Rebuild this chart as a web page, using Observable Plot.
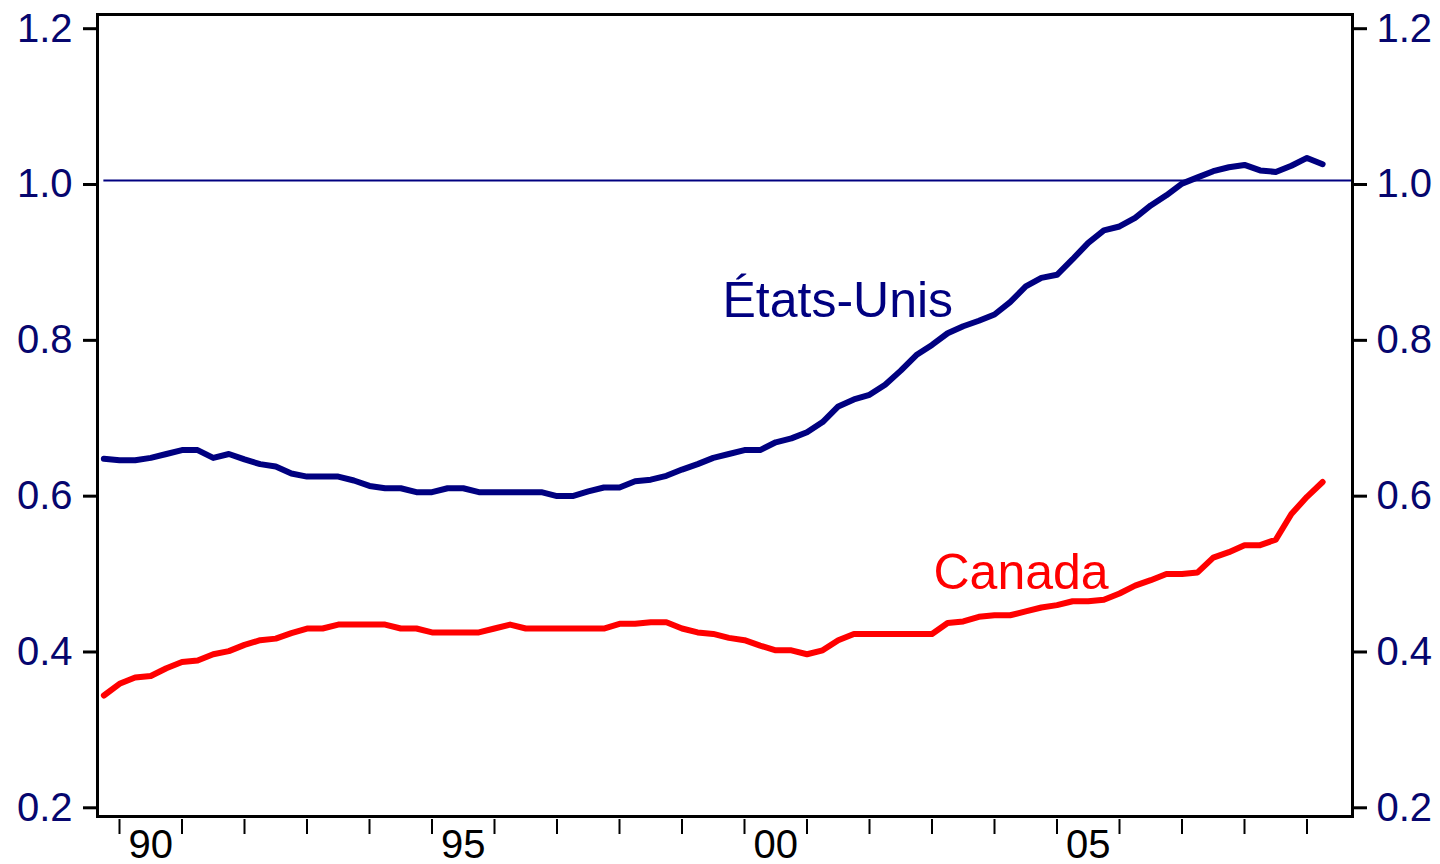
<!DOCTYPE html>
<html>
<head>
<meta charset="utf-8">
<script src="https://cdn.jsdelivr.net/npm/d3@7"></script>
<script src="https://cdn.jsdelivr.net/npm/@observablehq/plot@0.6"></script>
<style>
  html, body { margin: 0; padding: 0; background: #fff; }
  svg { display: block; }
</style>
</head>
<body>
<script>
// Quarterly series, 1989Q4 to 2009Q2
const firstYear = 1989, firstQuarter = 4;
const etatsUnis = [
  0.643,0.641,0.641,0.644,0.649,0.654,0.654,0.644,0.649,0.642,
  0.636,0.633,0.624,0.620,0.620,0.620,0.615,0.608,0.605,0.605,
  0.600,0.600,0.605,0.605,0.600,0.600,0.600,0.600,0.600,0.595,
  0.595,0.601,0.606,0.606,0.614,0.616,0.621,0.629,0.636,0.644,
  0.649,0.654,0.654,0.664,0.669,0.677,0.690,0.710,0.719,0.725,
  0.738,0.756,0.776,0.789,0.804,0.813,0.820,0.828,0.844,0.864,
  0.875,0.879,0.899,0.920,0.936,0.941,0.952,0.968,0.981,0.996,
  1.004,1.012,1.017,1.020,1.013,1.011,1.019,1.029,1.021
];
const canada = [
  0.339,0.354,0.362,0.364,0.374,0.382,0.384,0.392,0.396,0.404,
  0.410,0.412,0.419,0.425,0.425,0.430,0.430,0.430,0.430,0.425,
  0.425,0.420,0.420,0.420,0.420,0.425,0.430,0.425,0.425,0.425,
  0.425,0.425,0.425,0.431,0.431,0.433,0.433,0.425,0.420,0.418,
  0.413,0.410,0.403,0.397,0.397,0.392,0.397,0.410,0.418,0.418,
  0.418,0.418,0.418,0.418,0.432,0.434,0.440,0.442,0.442,0.447,
  0.452,0.455,0.460,0.460,0.462,0.470,0.480,0.487,0.495,0.495,
  0.497,0.516,0.523,0.532,0.532,0.539,0.572,0.594,0.613
];
const yTicks = [0.2, 0.4, 0.6, 0.8, 1.0, 1.2];
const yearTicks = d3.range(1990, 2010);
const labelYears = [1990, 1995, 2000, 2005];
const labelTexts = ["90", "95", "00", "05"];
const referenceLevel = 1.0;

const t = etatsUnis.map((_, i) => firstYear + (firstQuarter - 1) / 4 + i / 4);
const data = [
  ...etatsUnis.map((v, i) => ({t: t[i], v, s: "États-Unis"})),
  ...canada.map((v, i) => ({t: t[i], v, s: "Canada"}))
];

const NAVY = "#000080";
const LABEL = "#06066e";
const RED = "#ff0000";

const chart = Plot.plot({
  width: 1440,
  height: 864,
  marginLeft: 97,
  marginRight: 88,
  marginTop: 14,
  marginBottom: 48,
  style: {fontFamily: "'Liberation Sans', Arial, Helvetica, sans-serif", background: "white", overflow: "visible"},
  x: {domain: [1989.648, 2009.728], axis: null, label: null},
  y: {domain: [0.1837, 1.2131], axis: null, label: null},
  color: {domain: ["États-Unis", "Canada"], range: [NAVY, RED]},
  marks: [
    Plot.ruleY([referenceLevel], {x1: t[0], x2: 2009.728, stroke: NAVY, strokeWidth: 2}),
    Plot.line(data, {x: "t", y: "v", z: "s", stroke: "s", strokeWidth: 6}),
    Plot.text(["États-Unis"], {x: 1999.648, y: 0.8254, text: d => d, fill: NAVY, fontSize: 50, textAnchor: "start", lineAnchor: "bottom"}),
    Plot.text(["Canada"], {x: 2003.024, y: 0.4763, text: d => d, fill: RED, fontSize: 50, textAnchor: "start", lineAnchor: "bottom"}),
    Plot.axisY({anchor: "left", label: null, ticks: yTicks, tickSize: 14, tickPadding: 11, strokeWidth: 3, stroke: "black", fill: LABEL, fontSize: 40, dy: 4, tickFormat: d3.format(".1f")}),
    Plot.axisY({anchor: "right", label: null, ticks: yTicks, tickSize: 14, tickPadding: 10, strokeWidth: 3, stroke: "black", fill: LABEL, fontSize: 40, dy: 4, tickFormat: d3.format(".1f")}),
    Plot.axisX({anchor: "bottom", label: null, ticks: yearTicks, tickSize: 15, strokeWidth: 2, stroke: "black", dy: 3, tickFormat: () => ""}),
    Plot.axisX({anchor: "bottom", label: null, ticks: labelYears.map(y => y + 0.5), tickSize: 0, tickPadding: 13, fill: "black", fontSize: 40,
      tickFormat: d => labelTexts[labelYears.indexOf(Math.round(d - 0.5))]}),
    Plot.frame({stroke: "black", strokeWidth: 3})
  ]
});
document.body.appendChild(chart);
</script>
</body>
</html>
